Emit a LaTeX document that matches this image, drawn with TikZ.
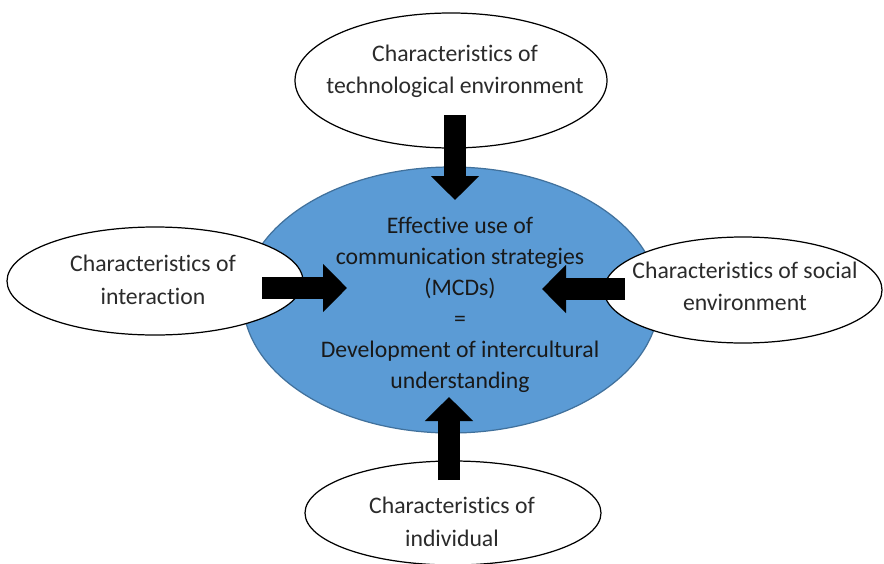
\documentclass[tikz,border=0pt]{standalone}
\usepackage{fontspec}
\setmainfont{Carlito}[Ligatures=NoCommon]
\usepackage{tikz}
\usetikzlibrary{positioning, shapes.geometric, arrows.meta}
\definecolor{coreblue}{HTML}{5B9BD5}
\definecolor{coreedge}{HTML}{41719C}
\definecolor{textgray}{HTML}{2B2B2B}
\tikzset{
	corenode/.style={
			shape=ellipse,
			draw=coreedge,
			fill=coreblue,
			line width=0.7pt,
			inner sep=0pt
		},
	outernode/.style={
			shape=ellipse,
			draw=black,
			fill=white,
			line width=0.7pt,
			inner sep=0pt
		},
	labeltext/.style={
			align=center,
			inner sep=0pt,
			text=textgray,
			font=\fontsize{13.5}{18.5}\selectfont
		},
	coretext/.style={
			labeltext,
			text=black!90,
			font=\fontsize{13.5}{17.6}\selectfont
		},
	blockarrow/.style={
			draw=black,
			line width=0.44cm,
			-{Triangle[width=0.94cm, length=0.48cm]}
		}
}

\begin{document}
\begin{tikzpicture}
	\fill[white] (0,0) rectangle (17.68,-11.26);
	\useasboundingbox (0,0) rectangle (17.68,-11.26);

	% centre: the outcome
	\node[corenode, minimum width=8.32cm, minimum height=5.32cm] (core) at (9.02,-6.0) {};
	\node[coretext] (coretxt) at (9.2,-6.1) {Effective use of\\communication strategies\\(MCDs)\\=\\Development of intercultural\\understanding};

	% the four groups of characteristics
	\node[outernode, minimum width=6.24cm, minimum height=2.7cm] (tech) at (9.02,-1.61) {};
	\node[labeltext] (techtxt) at (9.1,-1.43) {Characteristics of\\technological environment};

	\node[outernode, minimum width=5.92cm, minimum height=2.16cm] (inter) at (3.10,-5.62) {};
	\node[labeltext] (intertxt) at (3.06,-5.6) {Characteristics of\\interaction};

	\node[outernode, minimum width=5.56cm, minimum height=2.12cm] (social) at (14.86,-5.8) {};
	\node[labeltext] (socialtxt) at (14.9,-5.73) {Characteristics of social\\environment};

	\node[outernode, minimum width=5.92cm, minimum height=2.08cm] (indiv) at (9.06,-10.26) {};
	\node[labeltext] (indivtxt) at (9.04,-10.44) {Characteristics of\\individual};

	% arrow ends
	\coordinate (techout) at (9.1,-2.3);
	\coordinate (techin) at (9.1,-4.0);
	\coordinate (interout) at (5.24,-5.76);
	\coordinate (interin) at (6.94,-5.76);
	\coordinate (socialout) at (12.5,-5.78);
	\coordinate (socialin) at (10.84,-5.78);
	\coordinate (indivout) at (8.98,-9.6);
	\coordinate (indivin) at (8.98,-7.94);

	\draw[blockarrow] (techout) -- (techin);
	\draw[blockarrow] (interout) -- (interin);
	\draw[blockarrow] (socialout) -- (socialin);
	\draw[blockarrow] (indivout) -- (indivin);
\end{tikzpicture}
\end{document}
